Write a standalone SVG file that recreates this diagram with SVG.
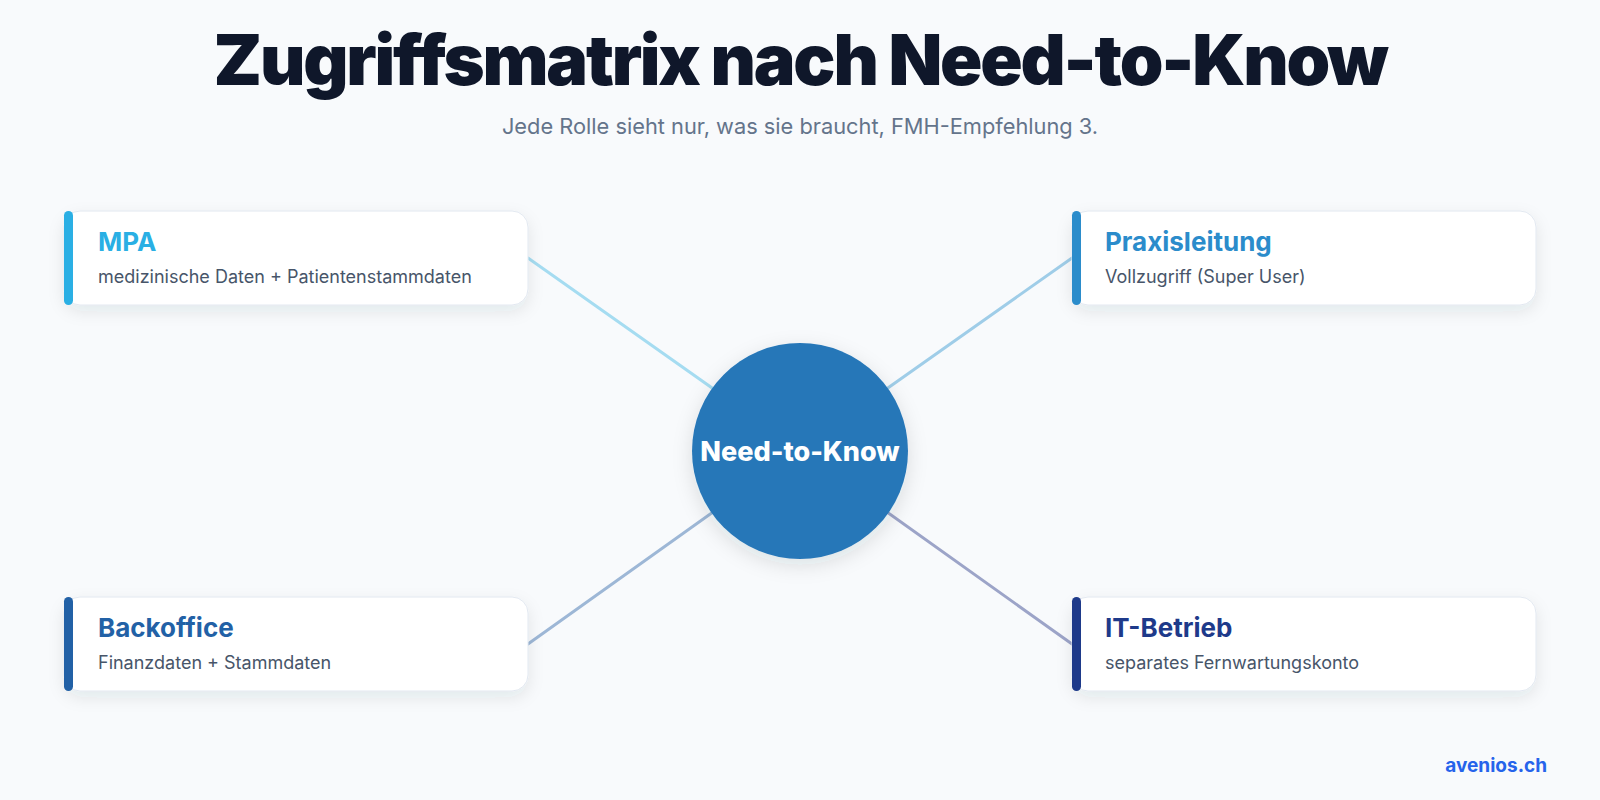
<svg xmlns="http://www.w3.org/2000/svg" width="1600" height="800" viewBox="0 0 1600 800">
  <defs>
    <filter id="shadow" x="-10%" y="-30%" width="120%" height="170%">
      <feDropShadow dx="0" dy="6" stdDeviation="8" flood-color="#1e293b" flood-opacity="0.09"/>
    </filter>
    <filter id="cshadow" x="-30%" y="-30%" width="160%" height="160%">
      <feDropShadow dx="0" dy="6" stdDeviation="10" flood-color="#1e293b" flood-opacity="0.12"/>
    </filter>
    <style>
      .title { font-family: Inter, "Liberation Sans", sans-serif; font-weight: 900; font-size: 70px; fill: #0f172a; letter-spacing: -2.2px; }
      .subtitle { font-family: Inter, "Liberation Sans", sans-serif; font-weight: 400; font-size: 21.8px; fill: #64748b; }
      .card { fill: #ffffff; stroke: #e2e8f0; stroke-width: 1; filter: url(#shadow); }
      .ntitle { font-family: Inter, "Liberation Sans", sans-serif; font-weight: 700; font-size: 26px; }
      .ndesc { font-family: Inter, "Liberation Sans", sans-serif; font-weight: 400; font-size: 18px; fill: #475569; }
      .conn { stroke-width: 3; fill: none; stroke-linecap: round; }
      .ctext { font-family: Inter, "Liberation Sans", sans-serif; font-weight: 800; font-size: 27px; fill: #ffffff; }
      .brand { font-family: Inter, "Liberation Sans", sans-serif; font-weight: 700; font-size: 19px; fill: #2563eb; }
    </style>
  </defs>

  <rect x="0" y="0" width="1600" height="800" fill="#f8fafc"/>

  <text class="title" x="800" y="85" text-anchor="middle">Zugriffsmatrix nach Need-to-Know</text>
  <text class="subtitle" x="800" y="134" text-anchor="middle">Jede Rolle sieht nur, was sie braucht, FMH-Empfehlung 3.</text>

  <g id="connectors">
    <line class="conn" x1="528" y1="258" x2="800" y2="450" stroke="#a5dcf1"/>
    <line class="conn" x1="1072" y1="258" x2="800" y2="450" stroke="#9fcde8"/>
    <line class="conn" x1="528" y1="644" x2="800" y2="450" stroke="#9db7d6"/>
    <line class="conn" x1="1072" y1="644" x2="800" y2="450" stroke="#9ca4c8"/>
  </g>

  <g id="center">
    <circle cx="800" cy="451" r="108" fill="#2777b8" filter="url(#cshadow)"/>
    <text class="ctext" x="800" y="461" text-anchor="middle">Need-to-Know</text>
  </g>

  <g id="node-mpa">
    <rect class="card" x="64" y="211" width="464" height="94" rx="16"/>
    <rect x="64" y="211" width="9" height="94" rx="4.5" fill="#2aafe4"/>
    <text class="ntitle" x="98" y="251" fill="#2aafe4">MPA</text>
    <text class="ndesc" x="98" y="283">medizinische Daten + Patientenstammdaten</text>
  </g>

  <g id="node-praxisleitung">
    <rect class="card" x="1072" y="211" width="464" height="94" rx="16"/>
    <rect x="1072" y="211" width="9" height="94" rx="4.5" fill="#2b8ccb"/>
    <text class="ntitle" x="1105" y="251" fill="#2b8ccb">Praxisleitung</text>
    <text class="ndesc" x="1105" y="283">Vollzugriff (Super User)</text>
  </g>

  <g id="node-backoffice">
    <rect class="card" x="64" y="597" width="464" height="94" rx="16"/>
    <rect x="64" y="597" width="9" height="94" rx="4.5" fill="#2261a6"/>
    <text class="ntitle" x="98" y="637" fill="#2261a6">Backoffice</text>
    <text class="ndesc" x="98" y="669">Finanzdaten + Stammdaten</text>
  </g>

  <g id="node-it">
    <rect class="card" x="1072" y="597" width="464" height="94" rx="16"/>
    <rect x="1072" y="597" width="9" height="94" rx="4.5" fill="#1e3a8a"/>
    <text class="ntitle" x="1105" y="637" fill="#1e3a8a">IT-Betrieb</text>
    <text class="ndesc" x="1105" y="669">separates Fernwartungskonto</text>
  </g>

  <text class="brand" x="1547" y="772" text-anchor="end">avenios.ch</text>
</svg>
